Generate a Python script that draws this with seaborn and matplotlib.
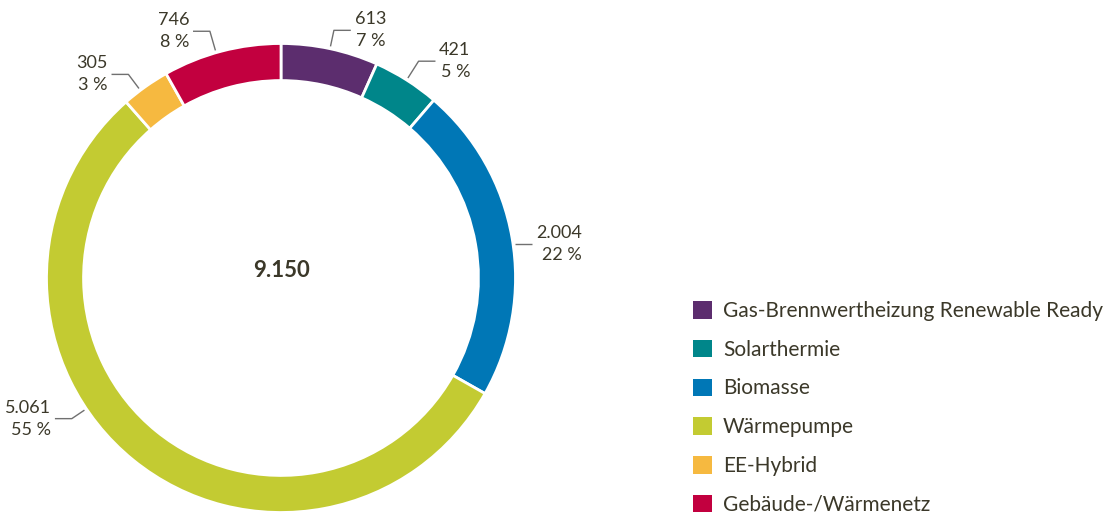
import numpy as np
import matplotlib
matplotlib.use("Agg")
import matplotlib.pyplot as plt
from matplotlib.patches import Patch
import seaborn as sns

categories = ["Gas-Brennwertheizung Renewable Ready", "Solarthermie", "Biomasse",
              "Wärmepumpe", "EE-Hybrid", "Gebäude-/Wärmenetz"]
values = [613, 421, 2004, 5061, 305, 746]
colors = ["#5c2d6e", "#00868a", "#0077b6", "#c3cb32", "#f6b940", "#c2003f"]
# label anchor tweaks: shift along the ring (deg, clockwise) and elbow radius
label_shift = [0, 0, 1.7, 17, -1.5, -1.4]
elbow_r = [1.08, 1.095, 1.01, 1.075, 1.085, 1.095]

TEXT = "#3b3829"
LINE = "#707070"

sns.set_theme(style="white")
plt.rcParams["font.family"] = ["Lato", "DejaVu Sans"]


def fmt_de(n):
    return f"{n:,}".replace(",", ".")


total = sum(values)

W, H = 1113, 518
cx, cy, R = 281, 278, 234.5  # pixel centre and radius of the ring
fig = plt.figure(figsize=(W / 100, H / 100), dpi=100)
axw = 560
ax = fig.add_axes([0, 0, axw / W, 1])

wedges, _ = ax.pie(values, colors=colors, startangle=90, counterclock=False, radius=1,
                   wedgeprops=dict(width=0.158, edgecolor="white", linewidth=2))
ax.set_aspect("auto")
ax.set_xlim(-cx / R, (axw - cx) / R)
ax.set_ylim(-(H - cy) / R, cy / R)
ax.axis("off")

for w, v, sh, r1 in zip(wedges, values, label_shift, elbow_r):
    a = np.deg2rad((w.theta1 + w.theta2) / 2 - sh)
    ca, sa = np.cos(a), np.sin(a)
    x0, y0 = 1.01 * ca, 1.01 * sa
    x1, y1 = r1 * ca, r1 * sa
    side = 1 if ca > 0 else -1
    x2 = x1 + side * 0.072
    ax.plot([x0, x1, x2], [y0, y1, y1], color=LINE, lw=1, solid_capstyle="butt")
    pct = round(v / total * 100)
    ax.text(x2 + side * 0.016, y1, f"{fmt_de(v)}\n{pct} %", ha="left" if side > 0 else "right",
            va="center", multialignment="right", fontsize=13, color=TEXT, linespacing=1.45)

ax.text(0, 0.032, fmt_de(total), ha="center", va="center", fontsize=16, fontweight="bold", color=TEXT)

handles = [Patch(facecolor=c, edgecolor="none") for c in colors]
fig.legend(handles, categories, loc="upper left", bbox_to_anchor=(693 / W, 1 - 301 / H),
           frameon=False, fontsize=15, handlelength=0.91, handleheight=0.91,
           handletextpad=0.53, labelspacing=0.9, borderpad=0, borderaxespad=0,
           labelcolor=TEXT)

fig.savefig("out.png", dpi=100)
